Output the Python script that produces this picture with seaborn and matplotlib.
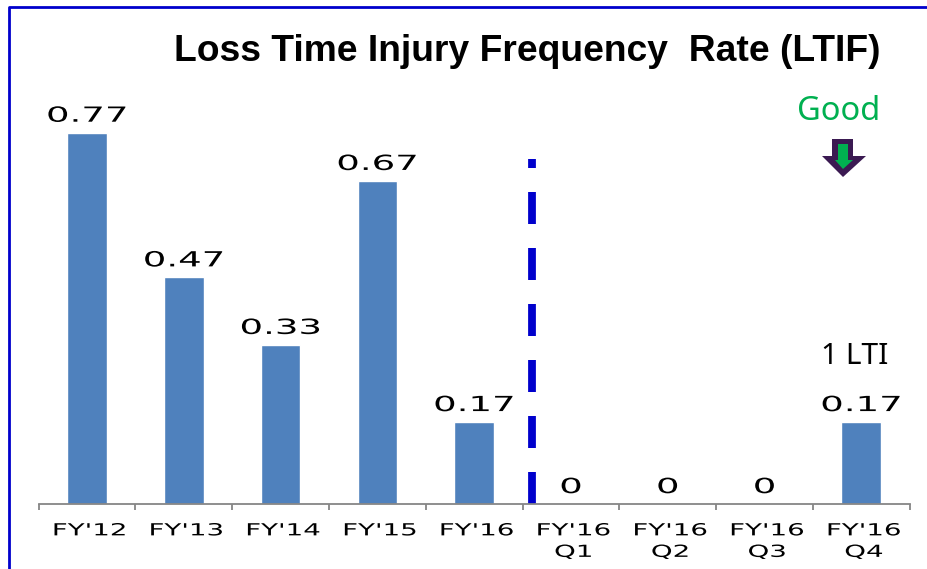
import numpy as np
import matplotlib
matplotlib.use("Agg")
import matplotlib.pyplot as plt
import matplotlib.patheffects as pe
from matplotlib.lines import Line2D
from matplotlib.patches import Polygon
from matplotlib.transforms import Affine2D
import seaborn as sns
import pandas as pd

categories = ["FY'12", "FY'13", "FY'14", "FY'15", "FY'16",
              "FY'16\nQ1", "FY'16\nQ2", "FY'16\nQ3", "FY'16\nQ4"]
values = [0.77, 0.47, 0.33, 0.67, 0.17, 0, 0, 0, 0.17]

W, H = 928, 569
BAR_COLOR = '#4F81BD'
FRAME_BLUE = '#0000CC'
GREEN = '#00B050'
PURPLE = '#3B1A52'

sns.set_style("white")
plt.rcParams['font.family'] = ['DejaVu Sans']


# the labels in the original are stretched sideways, text stays real text
class StretchX(pe.AbstractPathEffect):
    def __init__(self, sx, shift=0):
        super().__init__()
        self.sx = sx
        self.shift = shift

    def draw_path(self, renderer, gc, tpath, affine, rgbFace=None):
        ext = affine.transform_path(tpath).get_extents()
        cx = (ext.x0 + ext.x1) / 2
        wide = affine + Affine2D().translate(-cx, 0).scale(self.sx, 1).translate(cx + self.shift, 0)
        renderer.draw_path(gc, tpath, wide, rgbFace)


def fx(px):
    return px / W


def fy(py):
    return 1 - py / H


df = pd.DataFrame({'period': categories, 'ltif': values})

fig = plt.figure(figsize=(W / 100, H / 100), dpi=100, facecolor='white')
ax = fig.add_axes([fx(38.7), fy(504), fx(910 - 39), (504 - 96) / H])

sns.barplot(data=df, x='period', y='ltif', color=BAR_COLOR, saturation=1,
            width=0.41, ax=ax)

ax.set_xlim(-0.5, len(categories) - 0.5)
ax.set_ylim(0, 0.846)
ax.set_xlabel('')
ax.set_ylabel('')
ax.set_yticks([])
sns.despine(ax=ax, left=True)
ax.patch.set_alpha(0)

# ticks sit between the categories, labels stay centered
ax.spines['bottom'].set_color('#868686')
ax.spines['bottom'].set_linewidth(1.3)
ax.set_xticks(np.arange(-0.5, len(categories)), minor=True)
ax.tick_params(axis='x', which='minor', length=4.5, width=1.3, color='#868686', bottom=True)
ax.tick_params(axis='x', which='major', length=0, pad=12.5, labelsize=12, labelcolor='black')
for lab in ax.get_xticklabels():
    lab.set_linespacing(1.25)
    lab.set_path_effects([StretchX(1.66, shift=2.5)])

# value labels
for txt in ax.bar_label(ax.containers[0], fmt='%g', padding=5, fontsize=15, color='black'):
    txt.set_path_effects([StretchX(1.78)])

# dashed separator between years and quarters
sep = Line2D([4.6, 4.6], [0, 0.715], color=FRAME_BLUE, lw=5.6,
             dash_capstyle='butt', dashes=(32 * 0.72 / 5.6, 24 * 0.72 / 5.6))
ax.add_line(sep)

fig.text(fx(527.5), fy(61), "Loss Time Injury Frequency  Rate (LTIF)",
         family='Liberation Sans', weight='bold', fontsize=26.8, ha='center',
         va='baseline', color='black')
fig.text(fx(839), fy(120), "Good", family='Noto Sans', fontsize=23.5, ha='center',
         va='baseline', color=GREEN)
fig.text(fx(855), fy(364.5), "1 LTI", family='Noto Sans', fontsize=21.5, ha='center',
         va='baseline', color='black')

# down arrow under Good
outer = [(832, 139), (853, 139), (853, 156), (866, 156), (843, 177), (822, 156), (832, 156)]
inner = [(838, 144), (848, 144), (848, 160), (853, 160), (843, 169), (835, 160), (838, 160)]
for pts, col in [(outer, PURPLE), (inner, GREEN)]:
    fig.add_artist(Polygon([(fx(x), fy(y)) for x, y in pts], closed=True,
                           transform=fig.transFigure, facecolor=col, edgecolor='none'))

# slide frame, left and top only
fig.add_artist(Line2D([fx(9.5), fx(9.5), fx(928)], [fy(569), fy(7), fy(7)],
                      color=FRAME_BLUE, lw=2, transform=fig.transFigure))

fig.savefig('out.png', dpi=100)
